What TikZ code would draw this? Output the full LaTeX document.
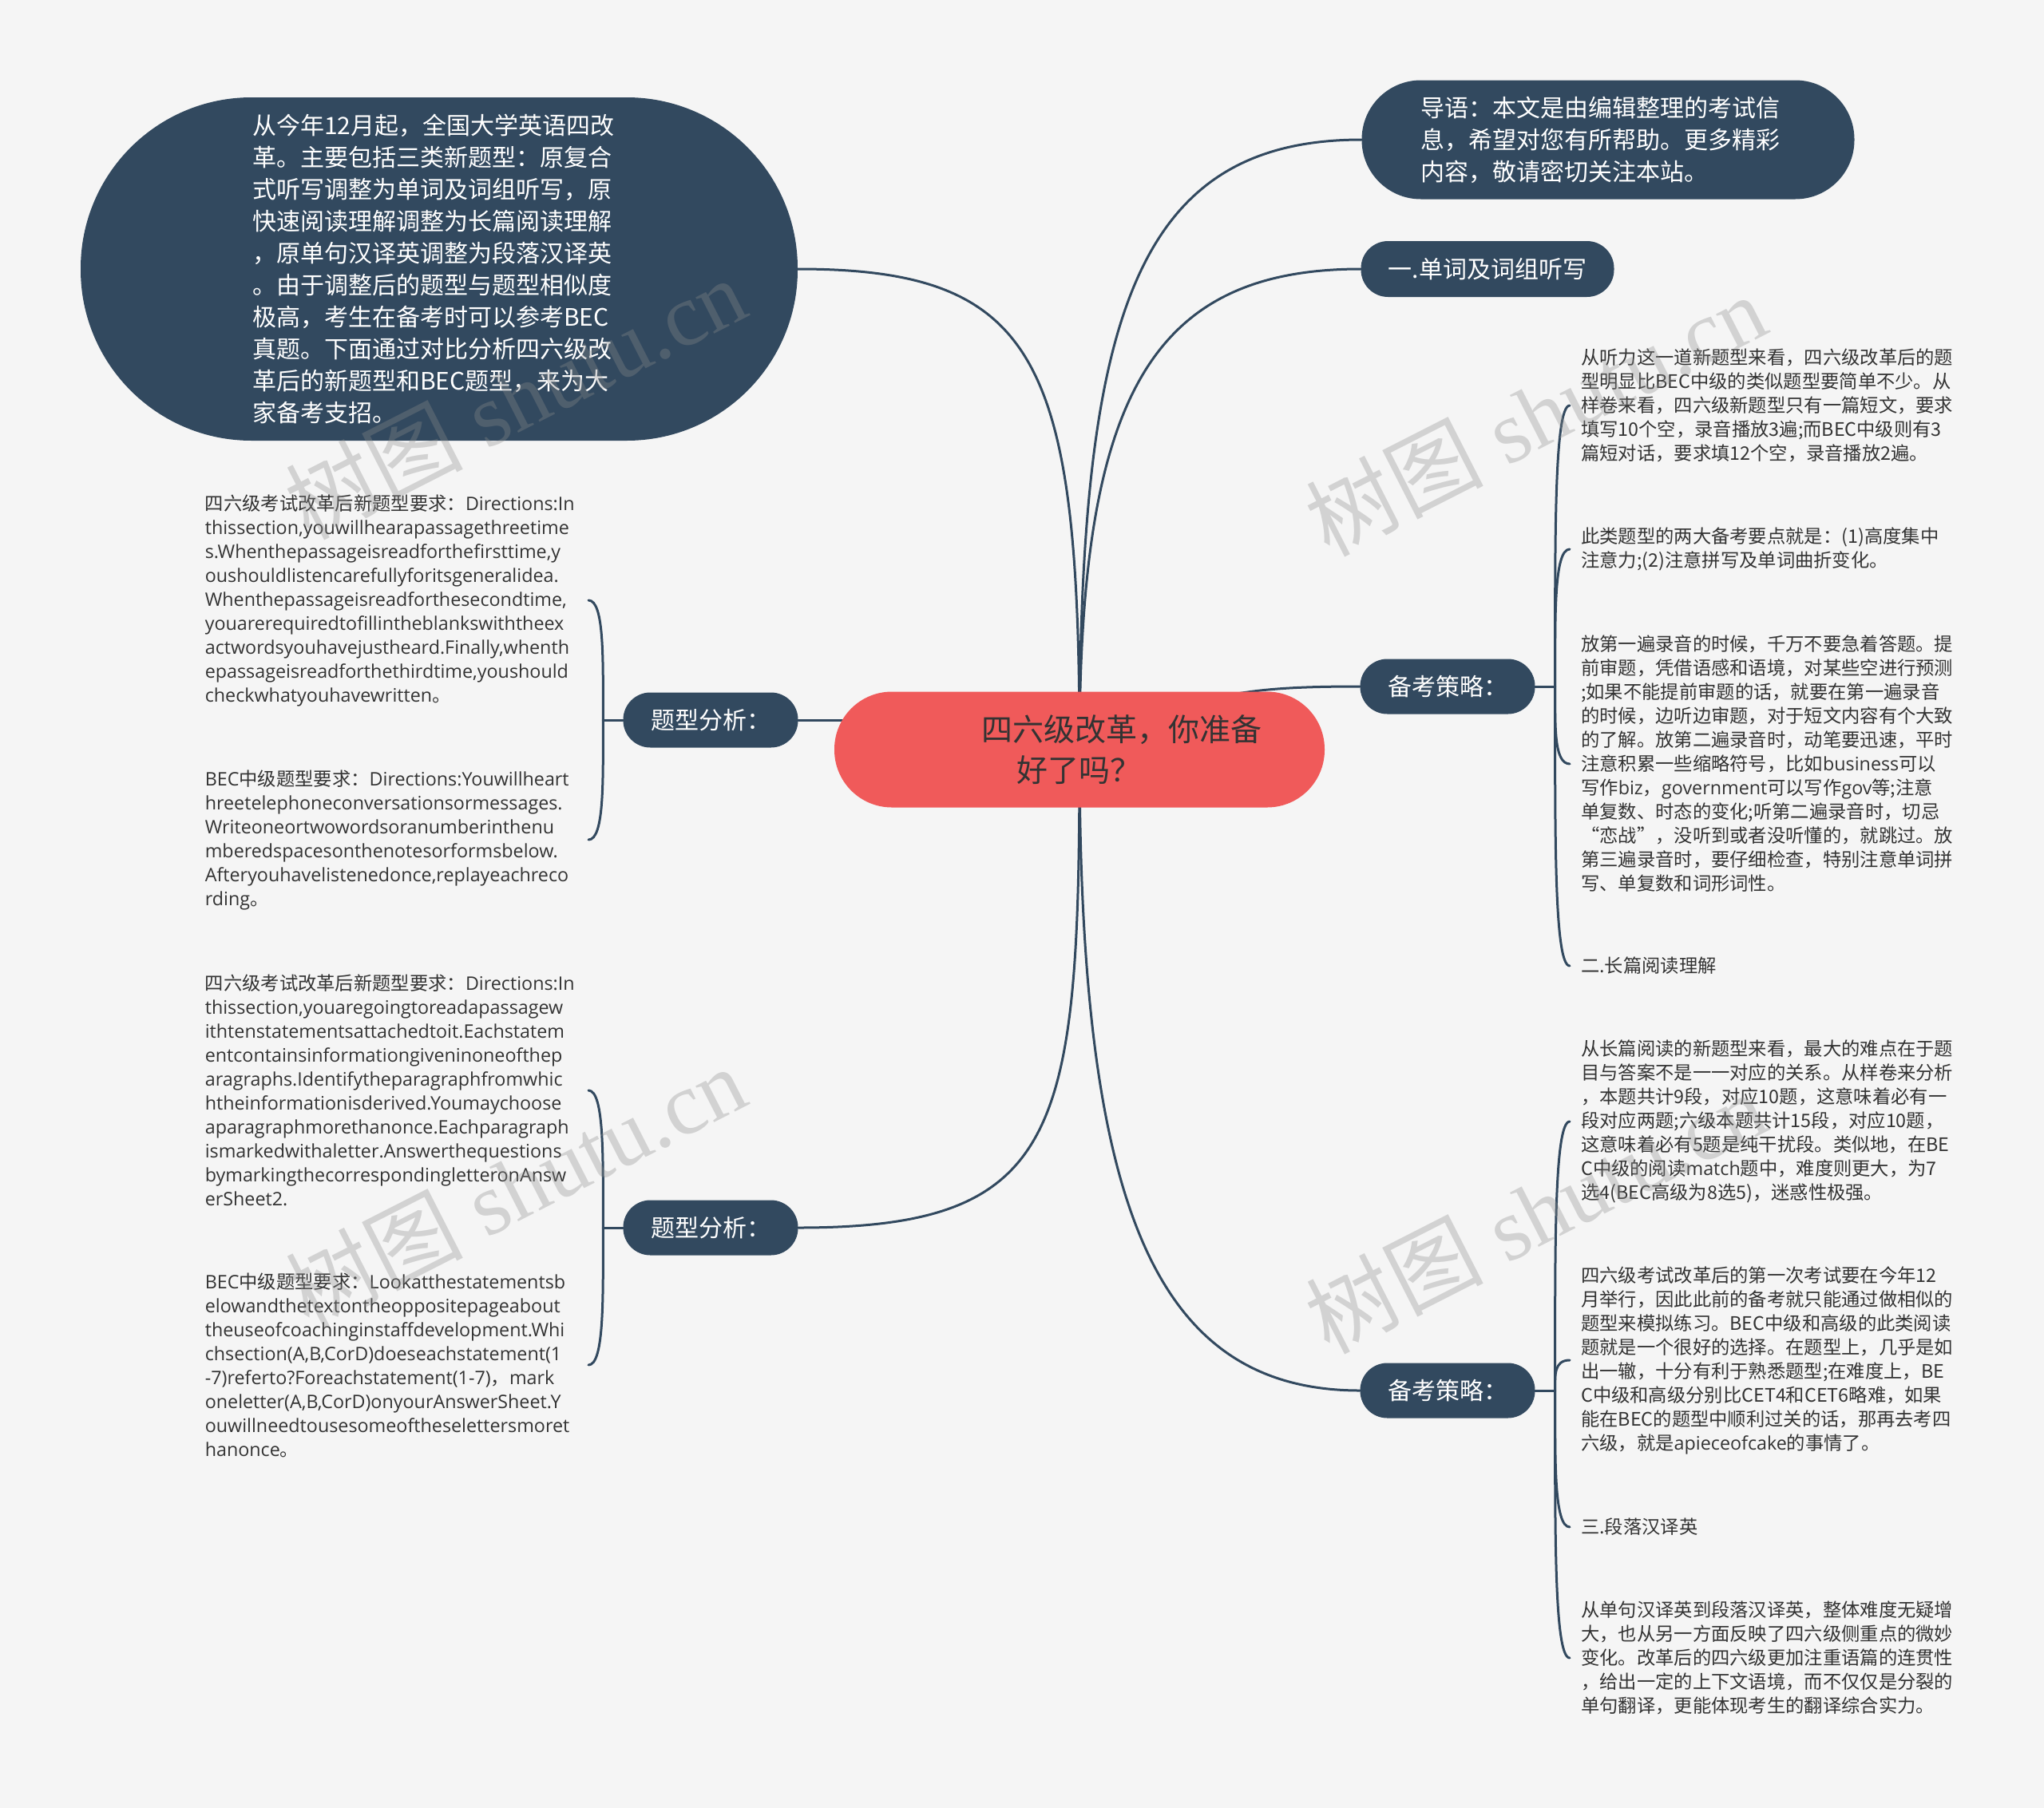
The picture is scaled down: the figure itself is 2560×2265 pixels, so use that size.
\documentclass[tikz,border=0pt]{standalone}
\usepackage{fontspec}
\setmainfont{Noto Sans CJK SC}
\newfontfamily\cjk{Noto Sans CJK SC}
\newfontfamily\lat{Open Sans}
\newfontfamily\wmserif{Liberation Serif}
\usetikzlibrary{calc}
\hyphenpenalty=10000
\exhyphenpenalty=10000
\definecolor{bgc}{HTML}{F5F5F5}
\definecolor{dk}{HTML}{32495F}
\definecolor{rd}{HTML}{F05A5A}
\definecolor{tx}{HTML}{333333}
\definecolor{wmc}{HTML}{8C8C8C}
\pgfdeclarelayer{bglayer}
\pgfdeclarelayer{edgelayer}
\pgfdeclarelayer{wmlayer}
\pgfsetlayers{bglayer,edgelayer,main,wmlayer}
\tikzset{
  conn/.style={draw=dk, line width=3pt, line cap=round},
  darknode/.style={fill=dk, text=white, inner sep=0pt, align=left, font=\fontsize{30}{40}\selectfont},
  pill/.style={darknode, align=center, minimum width=219pt, minimum height=69pt, rounded corners=34pt},
  leafR/.style={text=tx, inner xsep=14pt, inner ysep=0pt, text width=480pt, align=left, anchor=west, font=\fontsize{23.3}{30}\selectfont},
  leafL/.style={text=tx, inner xsep=14pt, inner ysep=0pt, text width=466pt, align=left, anchor=east, font=\lat\fontsize{23.3}{30}\selectfont},
  wm/.style={text=wmc, opacity=0.33, rotate=27, inner sep=0pt, font=\fontsize{111}{111}\selectfont}
}
\begin{document}
\begin{tikzpicture}[x=1pt,y=-1pt]
\useasboundingbox (0,0) rectangle (2560,2265);
\begin{pgfonlayer}{bglayer}
\fill[bgc] (0,0) rectangle (2560,2265);
\end{pgfonlayer}

% central node
\node[fill=rd, text=tx, minimum width=614pt, minimum height=145pt, rounded corners=72pt, inner sep=0pt, align=left, font=\fontsize{39}{51}\selectfont] (c) at (1352,939) {\hspace*{106pt}四六级改革，你准备\\\hspace*{150pt}好了吗？};

% main dark nodes
\node[darknode, minimum width=898pt, minimum height=430pt, rounded corners=214pt, text width=468pt] (intro) at (550,337) {从今年12月起，全国大学英语四改\\革。主要包括三类新题型：原复合\\式听写调整为单词及词组听写，原\\快速阅读理解调整为长篇阅读理解\\，原单句汉译英调整为段落汉译英\\。由于调整后的题型与题型相似度\\极高，考生在备考时可以参考BEC\\真题。下面通过对比分析四六级改\\革后的新题型和BEC题型，来为大\\家备考支招。};

\node[darknode, minimum width=617pt, minimum height=149pt, rounded corners=74pt, text width=470pt] (dy) at (2014,175) {导语：本文是由编辑整理的考试信\\息，希望对您有所帮助。更多精彩\\内容，敬请密切关注本站。};

\node[pill, minimum width=317pt, minimum height=70pt] (w1) at (1863,337) {一.单词及词组听写};
\node[pill] (bk1) at (1813,860) {备考策略：};
\node[pill] (bk2) at (1813,1742) {备考策略：};
\node[pill] (tx1) at (890,902) {题型分析：};
\node[pill] (tx2) at (890,1538) {题型分析：};

% right leaves
\node[leafR] (la) at (1966,508) {从听力这一道新题型来看，四六级改革后的题\\型明显比BEC中级的类似题型要简单不少。从\\样卷来看，四六级新题型只有一篇短文，要求\\填写10个空，录音播放3遍;而BEC中级则有3\\篇短对话，要求填12个空，录音播放2遍。};
\node[leafR] (lb) at (1966,688) {此类题型的两大备考要点就是：(1)高度集中\\注意力;(2)注意拼写及单词曲折变化。};
\node[leafR] (lc) at (1966,957) {放第一遍录音的时候，千万不要急着答题。提\\前审题，凭借语感和语境，对某些空进行预测\\;如果不能提前审题的话，就要在第一遍录音\\的时候，边听边审题，对于短文内容有个大致\\的了解。放第二遍录音时，动笔要迅速，平时\\注意积累一些缩略符号，比如{\lat business}可以\\写作{\lat biz}，{\lat government}可以写作{\lat gov}等;注意\\单复数、时态的变化;听第二遍录音时，切忌\\“恋战”，没听到或者没听懂的，就跳过。放\\第三遍录音时，要仔细检查，特别注意单词拼\\写、单复数和词形词性。};
\node[leafR] (ld) at (1966,1210) {二.长篇阅读理解};
\node[leafR] (le) at (1966,1405) {从长篇阅读的新题型来看，最大的难点在于题\\目与答案不是一一对应的关系。从样卷来分析\\，本题共计9段，对应10题，这意味着必有一\\段对应两题;六级本题共计15段，对应10题，\\这意味着必有5题是纯干扰段。类似地，在BE\\C中级的阅读{\lat match}题中，难度则更大，为7\\选4(BEC高级为8选5)，迷惑性极强。};
\node[leafR] (lf) at (1966,1704) {四六级考试改革后的第一次考试要在今年12\\月举行，因此此前的备考就只能通过做相似的\\题型来模拟练习。BEC中级和高级的此类阅读\\题就是一个很好的选择。在题型上，几乎是如\\出一辙，十分有利于熟悉题型;在难度上，BE\\C中级和高级分别比CET4和CET6略难，如果\\能在BEC的题型中顺利过关的话，那再去考四\\六级，就是{\lat apieceofcake}的事情了。};
\node[leafR] (lg) at (1966,1913) {三.段落汉译英};
\node[leafR] (lh) at (1966,2077) {从单句汉译英到段落汉译英，整体难度无疑增\\大，也从另一方面反映了四六级侧重点的微妙\\变化。改革后的四六级更加注重语篇的连贯性\\，给出一定的上下文语境，而不仅仅是分裂的\\单句翻译，更能体现考生的翻译综合实力。};

% left leaves
\node[leafL] (l1) at (737,752) {{\cjk 四六级考试改革后新题型要求：}Directions:In\\thissection,youwillhearapassagethreetime\\s.Whenthepassageisreadforthefirsttime,y\\oushouldlistencarefullyforitsgeneralidea.\\Whenthepassageisreadforthesecondtime,\\youarerequiredtofillintheblankswiththeex\\actwordsyouhavejustheard.Finally,whenth\\epassageisreadforthethirdtime,youshould\\checkwhatyouhavewritten{\cjk 。}};
\node[leafL] (l2) at (737,1052) {BEC{\cjk 中级题型要求：}Directions:Youwillheart\\hreetelephoneconversationsormessages.\\Writeoneortwowordsoranumberinthenu\\mberedspacesonthenotesorformsbelow.\\Afteryouhavelistenedonce,replayeachreco\\rding{\cjk 。}};
\node[leafL] (l3) at (737,1366) {{\cjk 四六级考试改革后新题型要求：}Directions:In\\thissection,youaregoingtoreadapassagew\\ithtenstatementsattachedtoit.Eachstatem\\entcontainsinformationgiveninoneofthep\\aragraphs.Identifytheparagraphfromwhic\\htheinformationisderived.Youmaychoose\\aparagraphmorethanonce.Eachparagraph\\ismarkedwithaletter.Answerthequestions\\bymarkingthecorrespondingletteronAnsw\\erSheet2.};
\node[leafL] (l4) at (737,1710) {BEC{\cjk 中级题型要求：}Lookatthestatementsb\\elowandthetextontheoppositepageabout\\theuseofcoachinginstaffdevelopment.Whi\\chsection(A,B,CorD)doeseachstatement(1\\-7)referto?Foreachstatement(1-7){\cjk ，}mark\\oneletter(A,B,CorD)onyourAnswerSheet.Y\\ouwillneedtousesomeoftheselettersmoret\\hanonce{\cjk 。}};

% branch points
\coordinate (bp1) at ($(bk1.east)+(25,0)$);
\coordinate (bp2) at ($(bk2.east)+(25,0)$);
\coordinate (bq1) at ($(tx1.west)+(-25,0)$);
\coordinate (bq2) at ($(tx2.west)+(-25,0)$);

\begin{pgfonlayer}{edgelayer}
% from center
\draw[conn] (c.center) .. controls ($(c.center)+(0,-489)$) and ($(intro.east)+(301,0)$) .. (intro.east);
\draw[conn] (c.center) .. controls ($(c.center)+(0,-539)$) and ($(dy.west)+(-285,0)$) .. (dy.west);
\draw[conn] (c.center) .. controls ($(c.center)+(0,-439)$) and ($(w1.west)+(-265,0)$) .. (w1.west);
\draw[conn] (c.center) .. controls ($(c.center)+(148,-69)$) and ($(bk1.west)+(-153,0)$) .. (bk1.west);
\draw[conn] (c.center) .. controls ($(c.center)+(0,561)$) and ($(bk2.west)+(-263,0)$) .. (bk2.west);
\draw[conn] (c.center) .. controls ($(c.center)+(0,481)$) and ($(tx2.east)+(331,0)$) .. (tx2.east);
\draw[conn] (tx1.east) -- (tx1.east -| c.center);
% right group 1
\draw[conn] (bk1.east) -- (bp1);
\draw[conn] (bp1) .. controls ($(bp1)+(0,-176)$) and ($(la.west)+(-20,0)$) .. (la.west);
\draw[conn] (bp1) .. controls ($(bp1)+(0,-86)$) and ($(lb.west)+(-20,0)$) .. (lb.west);
\draw[conn] (bp1) .. controls ($(bp1)+(0,48)$) and ($(lc.west)+(-20,0)$) .. (lc.west);
\draw[conn] (bp1) .. controls ($(bp1)+(0,175)$) and ($(ld.west)+(-20,0)$) .. (ld.west);
% right group 2
\draw[conn] (bk2.east) -- (bp2);
\draw[conn] (bp2) .. controls ($(bp2)+(0,-168)$) and ($(le.west)+(-20,0)$) .. (le.west);
\draw[conn] (bp2) .. controls ($(bp2)+(0,-19)$) and ($(lf.west)+(-20,0)$) .. (lf.west);
\draw[conn] (bp2) .. controls ($(bp2)+(0,85)$) and ($(lg.west)+(-20,0)$) .. (lg.west);
\draw[conn] (bp2) .. controls ($(bp2)+(0,168)$) and ($(lh.west)+(-20,0)$) .. (lh.west);
% left groups
\draw[conn] (tx1.west) -- (bq1);
\draw[conn] (bq1) .. controls ($(bq1)+(0,-75)$) and ($(l1.east)+(20,0)$) .. (l1.east);
\draw[conn] (bq1) .. controls ($(bq1)+(0,75)$) and ($(l2.east)+(20,0)$) .. (l2.east);
\draw[conn] (tx2.west) -- (bq2);
\draw[conn] (bq2) .. controls ($(bq2)+(0,-86)$) and ($(l3.east)+(20,0)$) .. (l3.east);
\draw[conn] (bq2) .. controls ($(bq2)+(0,86)$) and ($(l4.east)+(20,0)$) .. (l4.east);
\end{pgfonlayer}

\begin{pgfonlayer}{wmlayer}
\node[wm] (wm1) at (645,498) {{\cjk 树图}\hspace{28pt}{\wmserif shutu.cn}};
\node[wm] (wm2) at (1923,519) {{\cjk 树图}\hspace{28pt}{\wmserif shutu.cn}};
\node[wm] (wm3) at (645,1486) {{\cjk 树图}\hspace{28pt}{\wmserif shutu.cn}};
\node[wm] (wm4) at (1923,1518) {{\cjk 树图}\hspace{28pt}{\wmserif shutu.cn}};
\end{pgfonlayer}
\end{tikzpicture}
\end{document}
